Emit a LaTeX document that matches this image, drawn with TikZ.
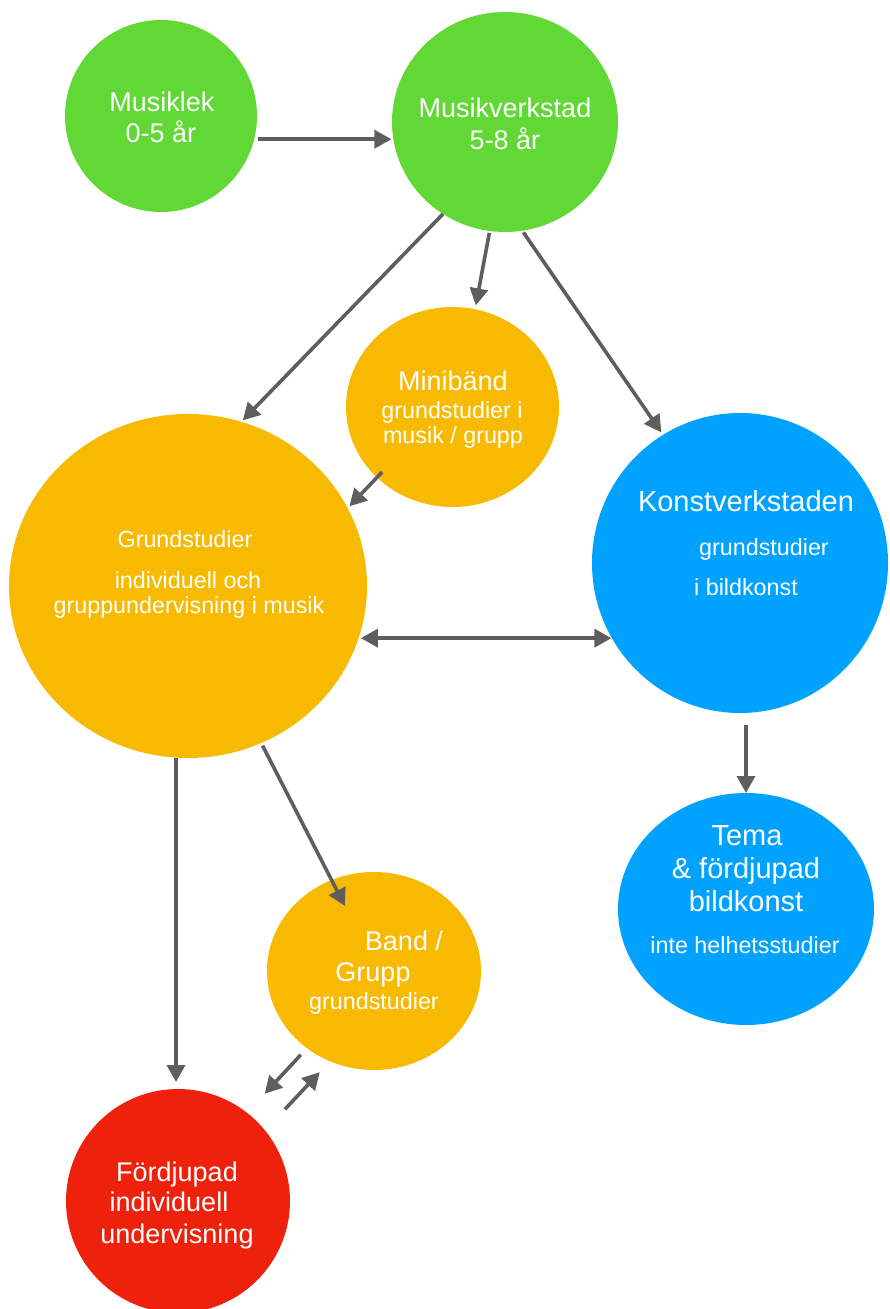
\documentclass[tikz,border=0pt]{standalone}
\usepackage{fontspec}
\setmainfont{Liberation Sans}
\usetikzlibrary{arrows.meta,shapes.geometric}
\definecolor{cgreen}{HTML}{61D836}
\definecolor{cyellow}{HTML}{F8BA00}
\definecolor{cblue}{HTML}{00A2FF}
\definecolor{cred}{HTML}{EE220C}
\definecolor{cgray}{HTML}{5E5E5E}
\newcommand\fbig{\fontsize{27}{30}\selectfont}
\newcommand\fsml{\fontsize{23.3}{27}\selectfont}
\newcommand\fhug{\fontsize{29}{33}\selectfont}
\begin{document}
\begin{tikzpicture}[x=1pt,y=-1pt,
  blob/.style={ellipse, inner sep=0pt, outer sep=0pt, draw=none},
  lbl/.style={anchor=base, inner sep=0pt, text=white},
  conn/.style={draw=cgray, line width=3.6pt, -{Triangle[length=17pt,width=18pt]}},
  dconn/.style={draw=cgray, line width=3.6pt, {Triangle[length=17pt,width=18pt]}-{Triangle[length=17pt,width=18pt]}}
  ]
\useasboundingbox (0,0) rectangle (889,1309);

% circles
\node[blob, fill=cgreen,  minimum width=192pt, minimum height=192pt] (mk)    at (161,116) {};
\node[blob, fill=cgreen,  minimum width=226pt, minimum height=220pt] (mv)    at (505,122) {};
\node[blob, fill=cyellow, minimum width=213pt, minimum height=200pt] (mini)  at (452.5,407) {};
\node[blob, fill=cyellow, minimum width=358pt, minimum height=344pt] (grund) at (188,586) {};
\node[blob, fill=cblue,   minimum width=296pt, minimum height=300pt] (konst) at (740,563) {};
\node[blob, fill=cblue,   minimum width=256pt, minimum height=232pt] (tema)  at (746,909) {};
\node[blob, fill=cyellow, minimum width=214pt, minimum height=198pt] (band)  at (374,971) {};
\node[blob, fill=cred,    minimum width=224pt, minimum height=224pt] (ford)  at (178,1201) {};

% labels
\node[lbl, font=\fbig] (mk1) at (162,111.7) {Musiklek};
\node[lbl, font=\fbig] (mk2) at (161,142.7) {0-5 år};
\node[lbl, font=\fbig] (mv1) at (505,117.3) {Musikverkstad};
\node[lbl, font=\fbig] (mv2) at (505,149) {5-8 år};

\node[lbl, font=\fbig] (mi1) at (453,390) {Minibänd};
\node[lbl, font=\fsml] (mi2) at (452,418.3) {grundstudier i};
\node[lbl, font=\fsml] (mi3) at (453,443.3) {musik / grupp};

\node[lbl, font=\fsml] (gr1) at (185,547.3) {Grundstudier};
\node[lbl, font=\fsml] (gr2) at (188,588.5) {individuell och};
\node[lbl, font=\fsml] (gr3) at (189,613.5) {gruppundervisning i musik};

\node[lbl, font=\fhug] (ko1) at (746,511.7) {Konstverkstaden};
\node[lbl, font=\fsml] (ko2) at (764,555.7) {grundstudier};
\node[lbl, font=\fsml] (ko3) at (746,595) {i bildkonst};

\node[lbl, font=\fhug] (te1) at (747,845) {Tema};
\node[lbl, font=\fhug] (te2) at (746,878.3) {\& fördjupad};
\node[lbl, font=\fhug] (te3) at (746,911.7) {bildkonst};
\node[lbl, font=\fsml] (te4) at (745,953.3) {inte helhetsstudier};

\node[lbl, font=\fbig] (ba1) at (404,950) {Band /};
\node[lbl, font=\fbig] (ba2) at (373,981.7) {Grupp};
\node[lbl, font=\fsml] (ba3) at (374,1009.3) {grundstudier};

\node[lbl, font=\fbig] (fo1) at (177,1181.7) {Fördjupad};
\node[lbl, font=\fbig] (fo2) at (169,1211.7) {individuell};
\node[lbl, font=\fbig] (fo3) at (177,1243.3) {undervisning};

% connectors
\draw[conn, shorten <=4pt, shorten >=2pt] (mk.-14.5) -- (mk.-14.5 -| mv.189.5);
\draw[conn, shorten <=0pt, shorten >=2pt] (mv.236.7) -- (grund.72.7);
\draw[conn, shorten <=2pt, shorten >=4pt] (mv.262.3) -- (mini.77.8);
\draw[conn, shorten <=2pt, shorten >=3pt] (mv.279.2) -- (konst.121.6);
\draw[conn, shorten <=-7.5pt, shorten >=2.6pt] (mini.223.7) -- (grund.26);
\draw[dconn, shorten <=2.3pt, shorten >=0pt] (grund.-17.5) -- (grund.-17.5 -| konst.210.4);
\draw[conn, shorten <=12pt, shorten >=0pt] (tema.90 |- konst.271.8) -- (tema.90);
\draw[conn, shorten <=0pt, shorten >=7pt] (grund.266.7) -- (grund.266.7 |- ford.90);
\draw[conn, shorten <=3pt, shorten >=-29pt] (grund.-65.9) -- (band.115.8);
\draw[conn, shorten <=9pt, shorten >=26pt] (band.229) -- (ford.52);
\draw[conn, shorten <=29pt, shorten >=15pt] (ford.39.2) -- (band.244.8);
\end{tikzpicture}
\end{document}
